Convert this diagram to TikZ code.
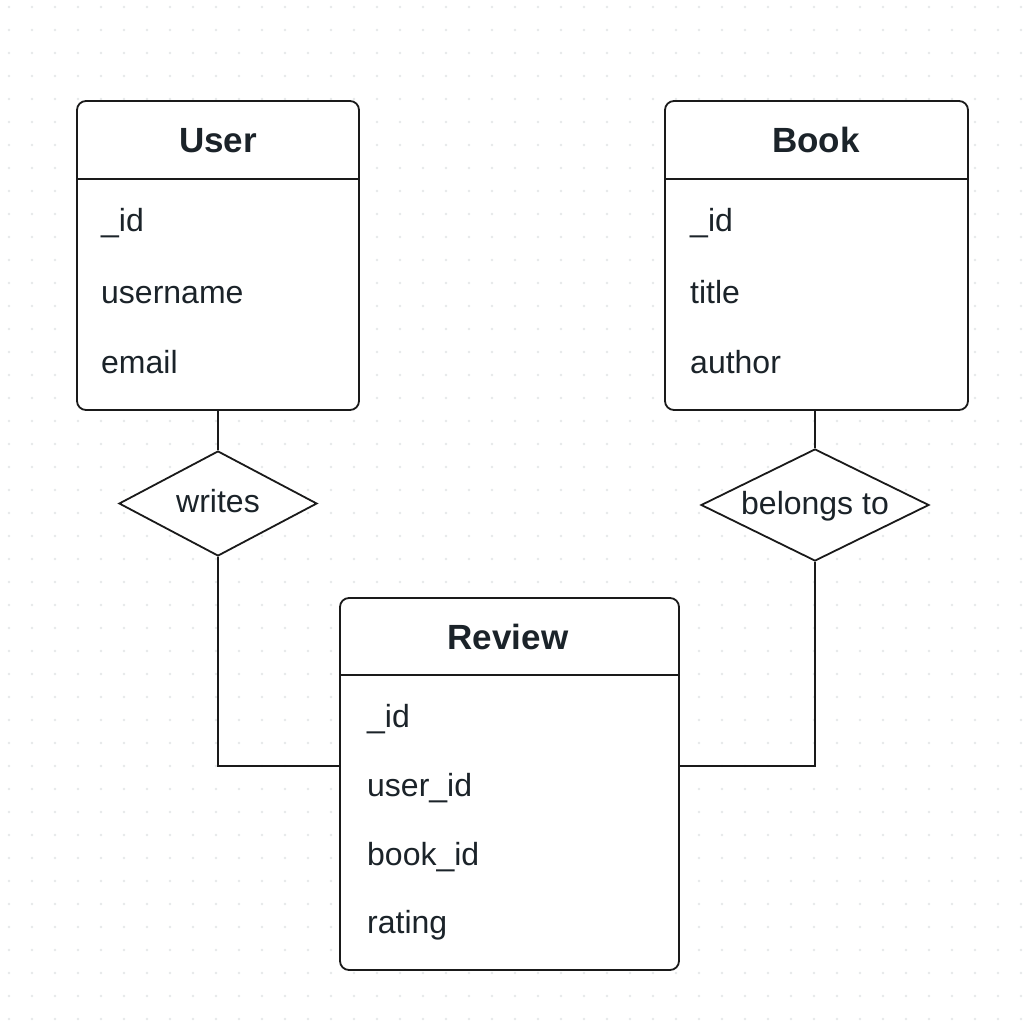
\documentclass[tikz,border=0pt]{standalone}
\usepackage{fontspec}
\setmainfont{Liberation Sans}
\usetikzlibrary{shapes.geometric,calc}
\definecolor{ink}{HTML}{1B2329}
\definecolor{edge}{HTML}{1A1A1A}
\definecolor{dotc}{HTML}{E6E8EA}
\tikzset{
  entity/.style={draw=edge, line width=1.8pt, rounded corners=9pt, fill=white, inner sep=0pt},
  rel/.style={draw=edge, line width=1.8pt, shape=diamond, fill=white, inner sep=0pt},
  reltext/.style={anchor=base, font=\fontsize{32}{36}\selectfont, text=ink, inner sep=0pt},
  ttl/.style={anchor=base, font=\bfseries\fontsize{35}{40}\selectfont, text=ink, inner sep=0pt},
  attr/.style={anchor=base west, font=\fontsize{32}{36}\selectfont, text=ink, inner sep=0pt},
  link/.style={draw=edge, line width=1.8pt},
}
\begin{document}
\begin{tikzpicture}[x=1pt,y=-1pt]
\useasboundingbox (0,0) rectangle (1024,1024);
\fill[white] (0,0) rectangle (1024,1024);
\foreach \i in {0,...,44} {
  \foreach \j in {0,...,44} {
    \fill[dotc] (9+23*\i, 7+23*\j) circle (1.3pt);
  }
}
% entities
\node[entity, minimum width=282pt, minimum height=309pt] (user) at (218,255.5) {};
\node[entity, minimum width=303pt, minimum height=309pt] (book) at (816.5,255.5) {};
\node[entity, minimum width=339pt, minimum height=372pt] (review) at (509.5,784) {};
\draw[link] (77,179) -- (359,179);
\draw[link] (665,179) -- (968,179);
\draw[link] (340,675) -- (679,675);
% titles
\node[ttl] (usert) at (218,153) {User};
\node[ttl] (bookt) at (816,153) {Book};
\node[ttl] (reviewt) at (508,649) {Review};
% attributes
\node[attr] (u1) at (101,232) {\_id};
\node[attr] (u2) at (101,303) {username};
\node[attr] (u3) at (101,373) {email};
\node[attr] (b1) at (690,232) {\_id};
\node[attr] (b2) at (690,303) {title};
\node[attr] (b3) at (690,373) {author};
\node[attr] (r1) at (367,727) {\_id};
\node[attr] (r2) at (367,796) {user\_id};
\node[attr] (r3) at (367,865) {book\_id};
\node[attr] (r4) at (367,933) {rating};
% relationships
\node[rel, minimum width=198pt, minimum height=105pt] (writes) at (218,503.5) {};
\node[rel, minimum width=228pt, minimum height=112pt] (belongs) at (815,505) {};
\node[reltext] (writest) at (218,512) {writes};
\node[reltext] (belongst) at (815,514) {belongs to};
% connectors
\draw[link] (user.south) -- (writes.north);
\draw[link] (book.south -| belongs.north) -- (belongs.north);
\draw[link] (writes.south) |- ($(review.north west)!0.4516!(review.south west)$);
\draw[link] (belongs.south) |- ($(review.north east)!0.4516!(review.south east)$);
\end{tikzpicture}
\end{document}
